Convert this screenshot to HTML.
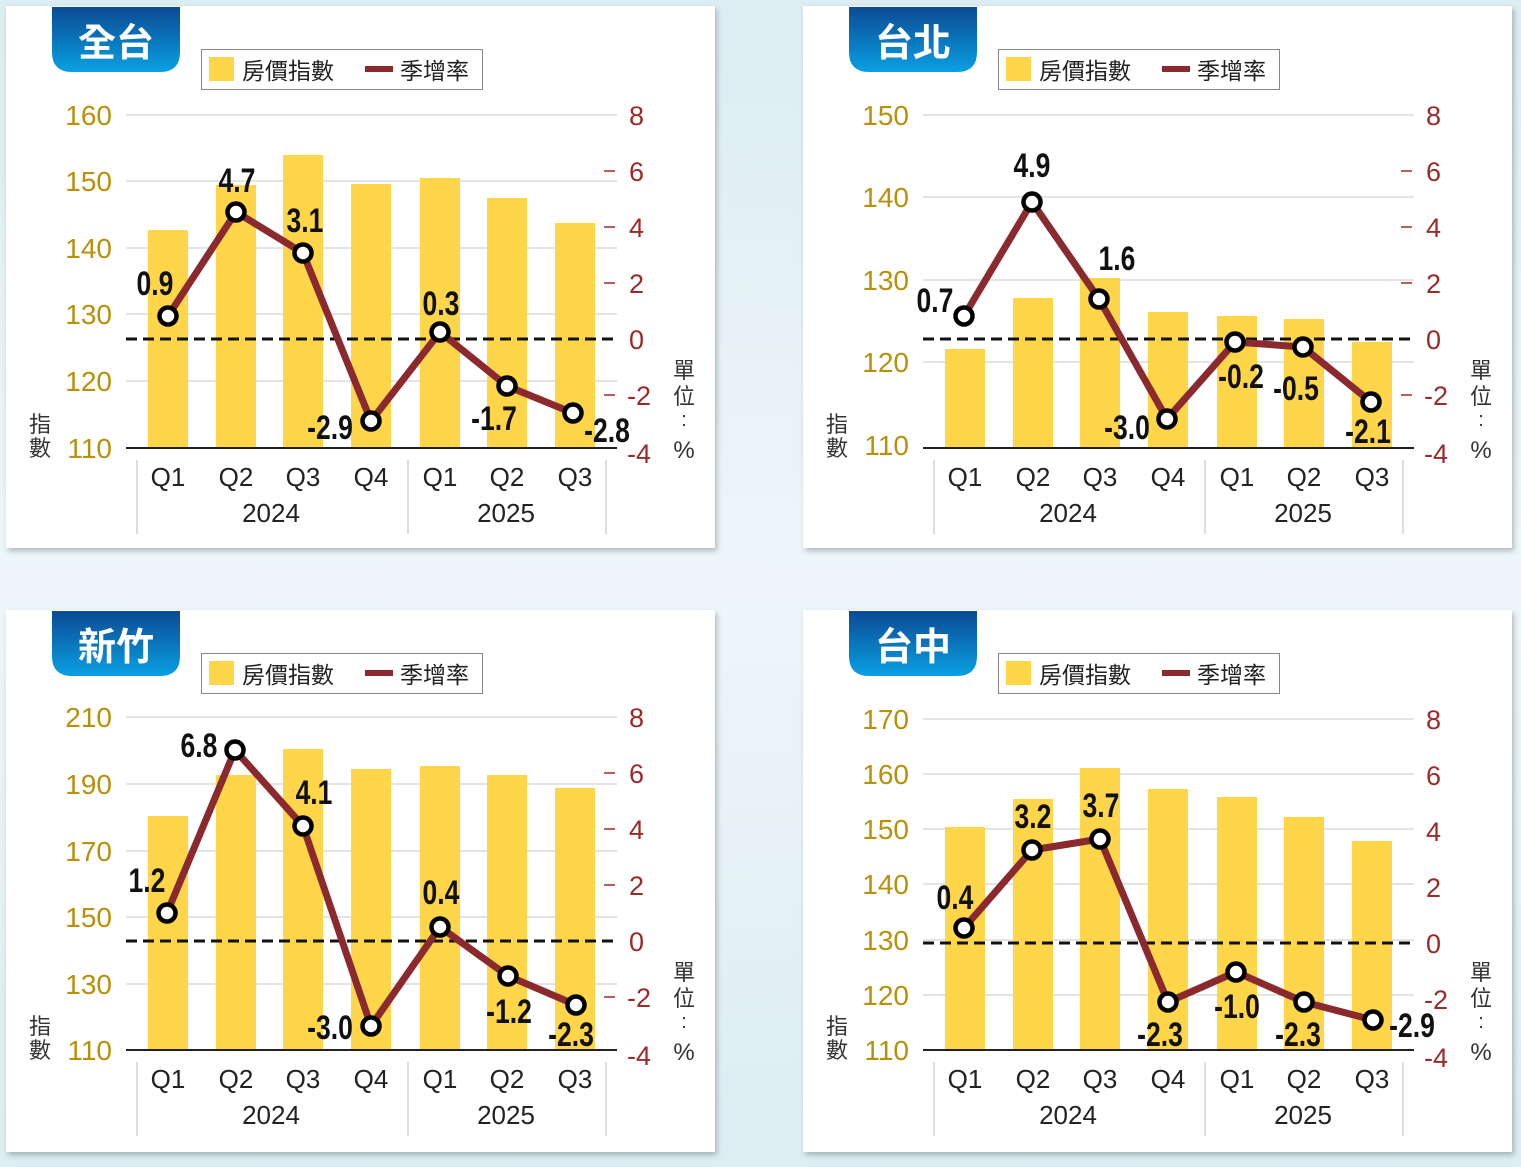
<!DOCTYPE html>
<html><head><meta charset="utf-8"><style>
html,body{margin:0;padding:0;width:1521px;height:1167px;overflow:hidden;background:linear-gradient(180deg,#dcedf4,#eef6f9 50%,#dcedf4);}
svg{display:block}
</style></head><body>
<svg id="s" width="1521" height="1167" viewBox="0 0 1521 1167" xmlns="http://www.w3.org/2000/svg">
<defs>
<linearGradient id="tab" x1="0" y1="0" x2="0" y2="1"><stop offset="0" stop-color="#0b4a94"/><stop offset="1" stop-color="#0aa0e2"/></linearGradient>
<filter id="sh" x="-5%" y="-5%" width="110%" height="110%"><feDropShadow dx="2" dy="3" stdDeviation="3" flood-color="#000" flood-opacity="0.25"/></filter>
</defs>
</svg>
<script>
const NS="http://www.w3.org/2000/svg";const S=document.getElementById('s');
function el(n,a,txt){const e=document.createElementNS(NS,n);for(const k in a)e.setAttribute(k,a[k]);if(txt!==undefined)e.textContent=txt;S.appendChild(e);return e;}
const F='"Liberation Sans","Noto Sans CJK TC",sans-serif';
const FN='"Liberation Sans Narrow","Liberation Sans",sans-serif';
const panels=[
 {dx:0,dy:0,bot:448,title:"全台",left:[[160,115],[150,181],[140,248],[130,314],[120,381],[110,448]],
  bars:[230,185,155,184,178,198,223],
  pts:[[168,316],[236,212],[303,253],[371,421],[440,332],[507,386],[573,413]],
  lab:[["0.9",155,283],["4.7",237,180],["3.1",305,220],["-2.9",330,427],["0.3",441,303],["-1.7",494,418],["-2.8",607,430]],ticks:true},
 {dx:797,dy:0,bot:448,title:"台北",left:[[150,115],[140,197],[130,280],[120,362],[110,445]],
  bars:[349,298,278,312,316,319,342],
  pts:[[964,316],[1032,202],[1099,299],[1167,419],[1235,342],[1303,347],[1371,402]],
  lab:[["0.7",935,300],["4.9",1032,165],["1.6",1117,258],["-3.0",1127,427],["-0.2",1241,376],["-0.5",1296,388],["-2.1",1368,431]],ticks:true},
 {dx:0,dy:604,bot:1050,title:"新竹",left:[[210,717],[190,784],[170,851],[150,917],[130,984],[110,1050]],
  bars:[816,775,749,769,766,775,788],
  pts:[[167,913],[235,750],[303,826],[371,1026],[440,927],[508,976],[576,1005]],
  lab:[["1.2",147,880],["6.8",199,745],["4.1",314,792],["-3.0",330,1027],["0.4",441,892],["-1.2",509,1011],["-2.3",571,1034]],ticks:true},
 {dx:797,dy:604,bot:1050,title:"台中",left:[[170,719],[160,774],[150,829],[140,884],[130,940],[120,995],[110,1050]],
  bars:[827,799,768,789,797,817,841],
  pts:[[964,928],[1032,850],[1100,839],[1168,1002],[1236,972],[1304,1002],[1373,1020]],
  lab:[["0.4",955,897],["3.2",1033,816],["3.7",1101,805],["-2.3",1160,1034],["-1.0",1237,1006],["-2.3",1298,1034],["-2.9",1412,1025]],ticks:false}
];
const cx=[168,236,303,371,440,507,575];
panels.forEach(p=>{
 const X=v=>v+p.dx,Y=v=>v+p.dy;
 el('rect',{x:X(6),y:Y(6),width:709,height:542,fill:'#fff',filter:'url(#sh)'});
 el('path',{d:`M${X(52)} ${Y(7)} H${X(180)} V${Y(52)} Q${X(180)} ${Y(72)} ${X(160)} ${Y(72)} H${X(72)} Q${X(52)} ${Y(72)} ${X(52)} ${Y(52)} Z`,fill:'url(#tab)'});
 el('text',{x:X(116),y:Y(56),'text-anchor':'middle','font-size':38,'font-weight':'bold',fill:'#fff','font-family':F},p.title);
 el('rect',{x:X(201.5),y:Y(49.5),width:281,height:40,fill:'#fff',stroke:'#888','stroke-width':1});
 el('rect',{x:X(209),y:Y(57),width:25,height:24,fill:'#ffd54a'});
 el('text',{x:X(242),y:Y(79),'font-size':23,fill:'#222','font-family':F},'房價指數');
 el('rect',{x:X(365),y:Y(66),width:28,height:6,fill:'#8b2a2e'});
 el('text',{x:X(400),y:Y(79),'font-size':23,fill:'#222','font-family':F},'季增率');
 const top=p.left[0][1],bot=p.bot;
 p.left.forEach(([v,y],i)=>{ if(i<p.left.length-1) el('line',{x1:X(126),x2:X(617),y1:y,y2:y,stroke:'#dcdcdc','stroke-width':1.5});
   el('text',{x:X(112),y:y+10,'text-anchor':'end','font-size':28,fill:'#b8900a','font-family':F},v);});
 p.bars.forEach((t,i)=>el('rect',{x:X(cx[i]-20),y:t,width:40,height:bot-t,fill:'#ffd54a'}));
 const z=top+224;
 el('line',{x1:X(126),x2:X(617),y1:z,y2:z,stroke:'#111','stroke-width':3,'stroke-dasharray':'11 6'});
 el('line',{x1:X(126),x2:X(617),y1:bot,y2:bot,stroke:'#222','stroke-width':2});
 [8,6,4,2,0,-2,-4].forEach((v,i)=>{const y=top+i*56;
  if(p.ticks&&v!==8&&v!==0&&v!==-4) el('line',{x1:X(604),x2:X(615),y1:y,y2:y,stroke:'#9b2a2a','stroke-width':1.5});
  el('text',{x:X(v<0?627:629),y:y+(v==-4?12:10),'font-size':27,fill:'#9b2a2a','font-family':F},v);});
 el('text',{x:X(40),y:bot-16,'text-anchor':'middle','font-size':22,fill:'#333','font-family':F},'指');
 el('text',{x:X(40),y:bot+8,'text-anchor':'middle','font-size':22,fill:'#333','font-family':F},'數');
 el('text',{x:X(684),y:bot-70,'text-anchor':'middle','font-size':22,fill:'#333','font-family':F},'單');
 el('text',{x:X(684),y:bot-44,'text-anchor':'middle','font-size':22,fill:'#333','font-family':F},'位');
 el('text',{x:X(684),y:bot-22,'text-anchor':'middle','font-size':20,fill:'#333','font-family':F},':');
 el('text',{x:X(684),y:bot+10,'text-anchor':'middle','font-size':24,fill:'#333','font-family':F},'%');
 ['Q1','Q2','Q3','Q4','Q1','Q2','Q3'].forEach((q,i)=>el('text',{x:X(cx[i]),y:bot+38,'text-anchor':'middle','font-size':26,fill:'#222','font-family':F},q));
 el('text',{x:X(271),y:bot+74,'text-anchor':'middle','font-size':26,fill:'#222','font-family':F},'2024');
 el('text',{x:X(506),y:bot+74,'text-anchor':'middle','font-size':26,fill:'#222','font-family':F},'2025');
 [137,408,606].forEach(x=>el('line',{x1:X(x),x2:X(x),y1:bot+12,y2:bot+86,stroke:'#ddd','stroke-width':2}));
 el('polyline',{points:p.pts.map(a=>a.join(',')).join(' '),fill:'none',stroke:'#8b2a2e','stroke-width':7,'stroke-linejoin':'round'});
 p.pts.forEach(a=>el('circle',{cx:a[0],cy:a[1],r:8.5,fill:'#fff',stroke:'#000','stroke-width':4.5}));
 p.lab.forEach(l=>{el('text',{x:l[1],y:l[2]+12,'text-anchor':'middle','font-size':34,'font-weight':'bold',fill:'#111','font-family':FN,transform:`translate(${l[1]} 0) scale(0.78 1) translate(${-l[1]} 0)`},l[0]);});
});
</script>
</body></html>
